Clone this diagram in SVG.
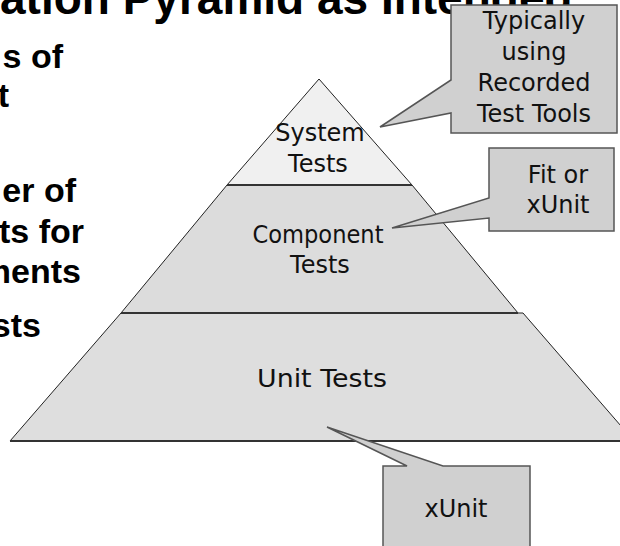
<svg xmlns="http://www.w3.org/2000/svg" width="620" height="546" viewBox="0 0 620 546">
  <style>
    .title { font-family: "Liberation Sans", Arial, sans-serif; font-weight: bold; font-size: 46px; fill: #000; }
    .body { font-family: "Liberation Sans", Arial, sans-serif; font-weight: bold; font-size: 34px; fill: #000; }
    .lbl { font-family: "DejaVu Sans", sans-serif; font-size: 24px; fill: #111; text-anchor: middle; }
    .tier { stroke: #222; stroke-width: 1; stroke-linejoin: miter; }
    .sep { stroke: #333; stroke-width: 2; }
    .callout { fill: #d0d0d0; stroke: #555; stroke-width: 1.5; stroke-linejoin: miter; }
  </style>

  <!-- slide title, clipped at the top edge -->
  <text class="title" x="0" y="14">ation Pyramid as Intended</text>

  <!-- bullet text, clipped at the left edge -->
  <g id="bullets" class="body" text-anchor="end">
    <text x="63" y="68">s of</text>
    <text x="9" y="107">t</text>
    <text x="76" y="202">er of</text>
    <text x="84" y="243">ts for</text>
    <text x="81" y="283">ments</text>
    <text x="41" y="337">sts</text>
  </g>

  <!-- pyramid tiers -->
  <g id="unit-tests">
    <polygon class="tier" points="121,313 523,313 634,441 10,441" fill="#dedede"/>
    <line class="sep" x1="10" y1="441" x2="620" y2="441"/>
    <text class="lbl" x="322" y="387" textLength="130" lengthAdjust="spacingAndGlyphs">Unit Tests</text>
  </g>
  <g id="component-tests">
    <polygon class="tier" points="227,185 412,185 518,313 121,313" fill="#dcdcdc"/>
    <line class="sep" x1="121" y1="313" x2="518" y2="313"/>
    <text class="lbl" x="318" y="243" textLength="131" lengthAdjust="spacingAndGlyphs">Component</text>
    <text class="lbl" x="320" y="273">Tests</text>
  </g>
  <g id="system-tests">
    <polygon class="tier" points="319,79 412,185 227,185" fill="#f0f0f0"/>
    <line class="sep" x1="227" y1="185" x2="412" y2="185" stroke="#555"/>
    <text class="lbl" x="320" y="141">System</text>
    <text class="lbl" x="318" y="172">Tests</text>
  </g>

  <!-- callouts (box with pointer wedge) -->
  <g id="callout-recorded">
    <path class="callout" d="M451,5 H617 V133 H451 V113 L380,127 L451,80 Z"/>
    <text class="lbl" x="534" y="29">Typically</text>
    <text class="lbl" x="534" y="60">using</text>
    <text class="lbl" x="534" y="91">Recorded</text>
    <text class="lbl" x="534" y="122">Test Tools</text>
  </g>
  <g id="callout-fit">
    <path class="callout" d="M489,148 H614 V231 H489 V218 L392,228 L489,198 Z"/>
    <text class="lbl" x="558" y="183">Fit or</text>
    <text class="lbl" x="558" y="213">xUnit</text>
  </g>
  <g id="callout-xunit">
    <path class="callout" d="M383,466 H407 L327,427 L443,466 H530 V550 H383 Z"/>
    <text class="lbl" x="456" y="517">xUnit</text>
  </g>
</svg>
